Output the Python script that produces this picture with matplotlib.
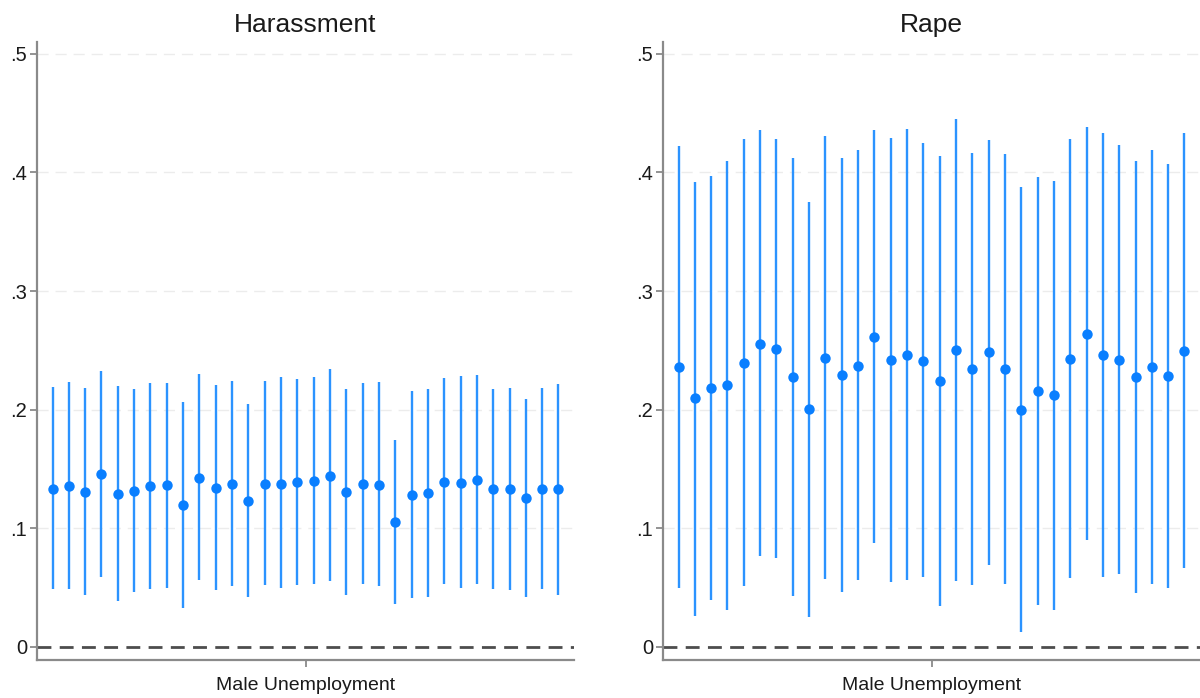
import numpy as np
import matplotlib
matplotlib.use("Agg")
import matplotlib.pyplot as plt

plt.rcParams['font.family'] = ['Liberation Sans', 'DejaVu Sans']

# point estimates and 95% CI bounds, one entry per specification
har_est = [0.1335, 0.1358, 0.1310, 0.1456, 0.1293, 0.1315, 0.1355, 0.1363,
           0.1194, 0.1428, 0.1338, 0.1377, 0.1231, 0.1377, 0.1377, 0.1389,
           0.1397, 0.1445, 0.1304, 0.1372, 0.1369, 0.1054, 0.1285, 0.1296,
           0.1394, 0.1386, 0.1408, 0.1330, 0.1330, 0.1254, 0.1335, 0.1330]
har_lo = [0.0485, 0.0485, 0.0442, 0.0586, 0.0389, 0.0462, 0.0485, 0.0501,
          0.0327, 0.0561, 0.0476, 0.0515, 0.0420, 0.0521, 0.0493, 0.0524,
          0.0527, 0.0552, 0.0439, 0.0527, 0.0510, 0.0358, 0.0411, 0.0420,
          0.0527, 0.0499, 0.0527, 0.0487, 0.0479, 0.0423, 0.0485, 0.0437]
har_hi = [0.2191, 0.2233, 0.2185, 0.2329, 0.2202, 0.2171, 0.2225, 0.2228,
          0.2065, 0.2298, 0.2208, 0.2245, 0.2045, 0.2242, 0.2273, 0.2259,
          0.2275, 0.2343, 0.2171, 0.2225, 0.2233, 0.1747, 0.2160, 0.2171,
          0.2270, 0.2287, 0.2292, 0.2177, 0.2183, 0.2090, 0.2185, 0.2219]

rape_est = [0.2360, 0.2099, 0.2186, 0.2208, 0.2394, 0.2558, 0.2513, 0.2276,
            0.2008, 0.2437, 0.2290, 0.2372, 0.2614, 0.2417, 0.2465, 0.2411,
            0.2240, 0.2501, 0.2340, 0.2484, 0.2340, 0.2000, 0.2161, 0.2124,
            0.2431, 0.2637, 0.2460, 0.2417, 0.2279, 0.2360, 0.2284, 0.2493]
rape_lo = [0.0501, 0.0265, 0.0392, 0.0313, 0.0513, 0.0766, 0.0746, 0.0428,
           0.0256, 0.0569, 0.0462, 0.0561, 0.0876, 0.0544, 0.0561, 0.0586,
           0.0346, 0.0552, 0.0521, 0.0690, 0.0527, 0.0124, 0.0355, 0.0315,
           0.0583, 0.0901, 0.0589, 0.0611, 0.0459, 0.0532, 0.0499, 0.0662]
rape_hi = [0.4220, 0.3918, 0.3969, 0.4099, 0.4279, 0.4355, 0.4279, 0.4124,
           0.3755, 0.4304, 0.4118, 0.4192, 0.4355, 0.4293, 0.4369, 0.4248,
           0.4135, 0.4454, 0.4166, 0.4276, 0.4155, 0.3876, 0.3961, 0.3932,
           0.4279, 0.4380, 0.4332, 0.4231, 0.4099, 0.4189, 0.4073, 0.4330]

titles = ["Harassment", "Rape"]
ytick_vals = [0, 0.1, 0.2, 0.3, 0.4, 0.5]
ytick_labels = ["0", ".1", ".2", ".3", ".4", ".5"]
xlab = "Male Unemployment"

line_col = '#2b93ff'
dot_col = '#0a7fff'
axis_col = '#8a8a8a'

fig = plt.figure(figsize=(12, 6.98), dpi=100)
ax1 = fig.add_axes([37 / 1200, 38 / 698, 537 / 1200, 618 / 698])
ax2 = fig.add_axes([663 / 1200, 38 / 698, 537 / 1200, 618 / 698])

panels = [(ax1, har_est, har_lo, har_hi), (ax2, rape_est, rape_lo, rape_hi)]
for k, (ax, est, lo, hi) in enumerate(panels):
    n = len(est)
    x = np.arange(n) - (n - 1) / 2.0
    est = np.array(est)
    lo = np.array(lo)
    hi = np.array(hi)

    for v in ytick_vals[1:]:
        ax.axhline(v, color='#ececec', lw=1.0, dashes=(8, 5), zorder=0)
    ax.axhline(0, color='#4d4d4d', lw=2.0, dashes=(5, 3), zorder=1)

    ax.vlines(x, lo, hi, color=line_col, lw=1.7, zorder=2)
    ax.plot(x, est, 'o', color=dot_col, ms=7.5, mec='none', zorder=3)

    ax.set_xlim(-16.45, 16.45)
    ax.set_ylim(-0.011, 0.51)
    ax.set_yticks(ytick_vals)
    ax.set_yticklabels(ytick_labels)
    ax.set_xticks([0])
    ax.set_xticklabels([""])
    ax.set_xlabel(xlab, fontsize=14, color='#1a1a1a', labelpad=5)
    ax.set_title(titles[k], fontsize=19, color='#1a1a1a', pad=7)

    for s in ['top', 'right']:
        ax.spines[s].set_visible(False)
    for s in ['left', 'bottom']:
        ax.spines[s].set_color(axis_col)
        ax.spines[s].set_linewidth(1.6)
    ax.tick_params(axis='both', colors=axis_col, length=5, width=1.3,
                   labelsize=14.5, labelcolor='#1a1a1a', pad=2)

fig.savefig("out.png", dpi=100)
